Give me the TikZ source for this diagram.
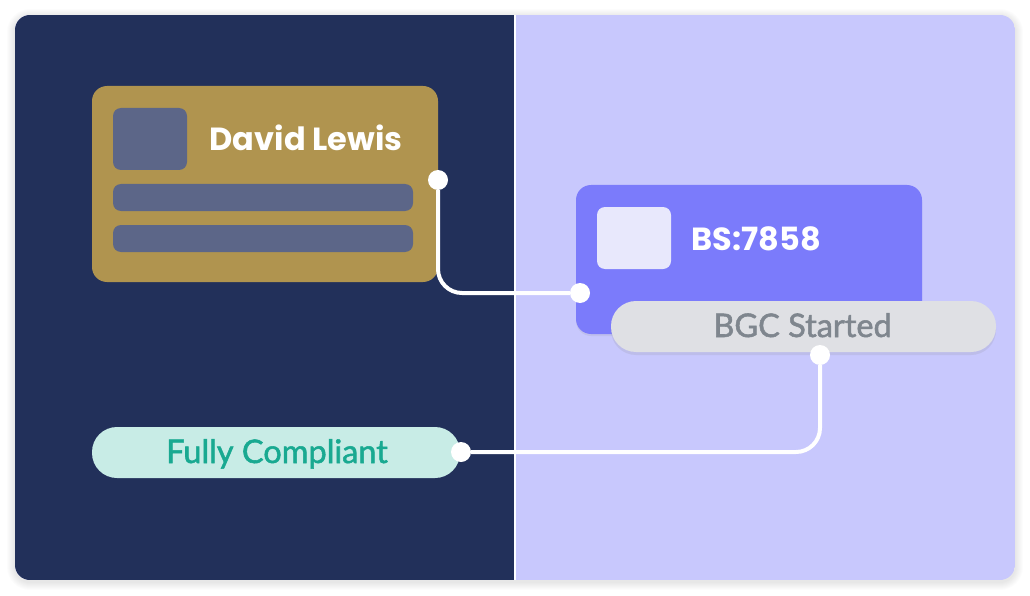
\documentclass[tikz,border=0pt]{standalone}
\usepackage{fontspec}
\usetikzlibrary{shadows}
\newfontfamily\headfont{Poppins}
\newfontfamily\pillfont{Lato}[FakeBold=1.6]

\definecolor{navy}{HTML}{22305A}
\definecolor{lavender}{HTML}{C8C8FD}
\definecolor{gold}{HTML}{B0944F}
\definecolor{slate}{HTML}{5C6688}
\definecolor{violet}{HTML}{7B7BFB}
\definecolor{pale}{HTML}{E8E8FC}
\definecolor{pillgray}{HTML}{DFE0E4}
\definecolor{pillink}{HTML}{7F868E}
\definecolor{mint}{HTML}{C8ECE6}
\definecolor{teal}{HTML}{19A991}

\tikzset{
  card/.style={rectangle,rounded corners=15pt,inner sep=0pt},
  tile/.style={rectangle,rounded corners=8pt,inner sep=0pt,fill=slate},
  pill/.style={rectangle,rounded corners=25pt,inner sep=0pt,minimum height=51pt},
  dot/.style={circle,fill=white,inner sep=0pt,minimum size=20pt},
  wire/.style={white,line width=4pt,rounded corners=24pt},
  title/.style={anchor=base west,text=white,font=\headfont\bfseries\fontsize{32}{38}\selectfont},
  tag/.style={anchor=base,font=\pillfont\fontsize{32.5}{38}\selectfont}
}

\begin{document}
\begin{tikzpicture}[x=1pt,y=-1pt]
    \useasboundingbox (0,0) rectangle (1030,596);

    \foreach \s in {1,...,8}
        \fill[black,opacity=0.012,rounded corners=15pt+\s pt]
            (15-\s,15-\s+2) rectangle (1015+\s,580+\s+2);
    \begin{scope}
        \clip[rounded corners=15pt] (15,15) rectangle (1015,580);
        \fill[lavender] (15,15) rectangle (1015,580);
        \fill[navy] (15,15) rectangle (515,580);
    \end{scope}
    \draw[white,line width=2pt] (515,15) -- (515,580);

    \node[card,fill=gold,minimum width=346pt,minimum height=196pt] (lewis) at (265,184) {};
    \node[tile,minimum width=74pt,minimum height=62pt] (lewisPic) at (150,139) {};
    \node[tile,minimum width=300pt,minimum height=27pt] (lewisBarA) at (263,197.5) {};
    \node[tile,minimum width=300pt,minimum height=27pt] (lewisBarB) at (263,238.5) {};
    \node[title] (lewisName) at (206,151) {David Lewis};

    \node[card,fill=violet,minimum width=346pt,minimum height=149pt,
        drop shadow={opacity=0.12,shadow xshift=0pt,shadow yshift=-2pt}] (bs) at (749,259.5) {};
    \node[tile,fill=pale,minimum width=74pt,minimum height=62pt] (bsPic) at (634,238) {};
    \node[title] (bsName) at (688,250) {BS:7858};

    \node[pill,fill=pillgray,minimum width=385pt,
        drop shadow={opacity=0.15,shadow xshift=0pt,shadow yshift=-3pt}] (bgc) at (803.5,326.5) {};
    \node[tag,text=pillink] (bgcText) at (802.5,337) {BGC Started};

    \node[pill,fill=mint,minimum width=368pt] (full) at (276,452.5) {};
    \node[tag,text=teal] (fullText) at (277,463) {Fully Compliant};

    \node[dot] (d1) at (438,180) {};
    \node[dot] (d2) at (580,293) {};
    \node[dot] (d3) at (820,355) {};
    \node[dot] (d4) at (461,452) {};

    \draw[wire] (d1) |- (d2);
    \draw[wire] (d3) |- (d4);
\end{tikzpicture}
\end{document}
